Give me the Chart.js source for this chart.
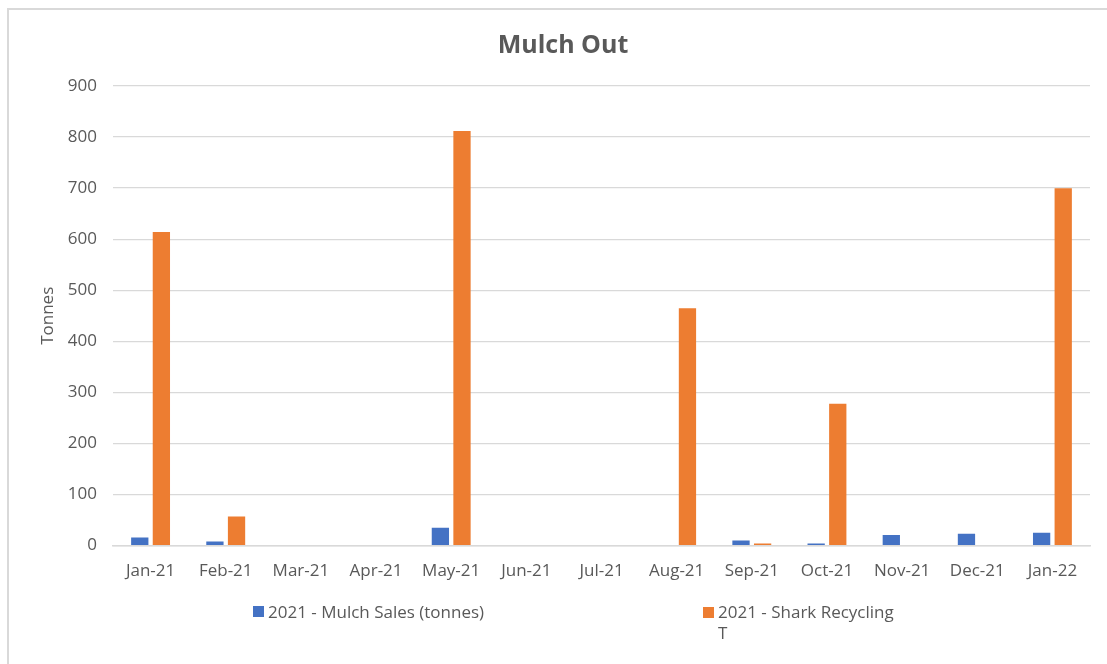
<!DOCTYPE html>
<html>
<head>
<meta charset="utf-8">
<script src="https://cdn.jsdelivr.net/npm/chart.js@4/dist/chart.umd.min.js"></script>
<style>
  html, body { margin: 0; padding: 0; background: #fff; }
  #wrap { position: relative; width: 1107px; height: 664px; overflow: hidden; }
  #frame { position: absolute; left: 7px; top: 8px; right: -10px; bottom: -10px;
           border-left: 2px solid #d9d9d9; border-top: 2px solid #d9d9d9; }
  .legend { position: absolute; font-family: "Open Sans", sans-serif; font-size: 17px;
            color: #595959; line-height: 21px; }
  .swatch { position: absolute; width: 11px; height: 11px; }
  #title { position: absolute; left: 363px; width: 400px; top: 26px; text-align: center;
           font-family: "Open Sans", sans-serif; font-weight: bold; font-size: 25px;
           line-height: 34px; color: #595959; }
</style>
</head>
<body>
<div id="wrap">
  <div id="frame"></div>
  <canvas id="mulchChart" width="1107" height="664"></canvas>
  <div id="title">Mulch Out</div>
  <div class="swatch" style="left:253px;top:606px;background:#4472C4"></div>
  <div class="legend" style="left:268px;top:601px">2021 - Mulch Sales (tonnes)</div>
  <div class="swatch" style="left:703px;top:607px;background:#ED7D31"></div>
  <div class="legend" style="left:718px;top:601px">2021 - Shark Recycling<br>T</div>
</div>
<script>
const months = ['Jan-21','Feb-21','Mar-21','Apr-21','May-21','Jun-21','Jul-21',
  'Aug-21','Sep-21','Oct-21','Nov-21','Dec-21','Jan-22'];

const mulchSales = [16, 8, 0, 0, 35, 0, 0, 0, 10, 4, 21, 23, 25];
const sharkRecycling = [614, 57, 0, 0, 812, 0, 0, 465, 4, 278, 0, 0, 700];

const yTicks = [0, 100, 200, 300, 400, 500, 600, 700, 800, 900];

const textGrey = '#595959';
const font = 'Open Sans';

const ctx = document.getElementById('mulchChart').getContext('2d');

new Chart(ctx, {
  type: 'bar',
  data: {
    labels: months,
    datasets: [
      {
        label: '2021 - Mulch Sales (tonnes)',
        data: mulchSales,
        backgroundColor: '#4472C4'
      },
      {
        label: '2021 - Shark Recycling T',
        data: sharkRecycling,
        backgroundColor: '#ED7D31'
      }
    ]
  },
  options: {
    responsive: false,
    animation: false,
    categoryPercentage: 0.575,
    barPercentage: 0.8,
    layout: { padding: { left: 8, top: 86, right: 17, bottom: 68 } },
    plugins: {
      legend: { display: false },
      tooltip: { enabled: false },
      title: { display: false }
    },
    scales: {
      x: {
        grid: { display: false, drawTicks: false },
        border: { color: '#d9d9d9', width: 1.5 },
        ticks: { color: textGrey, font: { family: font, size: 17 }, padding: 15, maxRotation: 0 }
      },
      y: {
        min: 0,
        max: 900,
        afterBuildTicks: scale => { scale.ticks = yTicks.map(v => ({ value: v })); },
        afterFit: scale => { scale.width = 105; },
        grid: { color: '#d9d9d9', lineWidth: 1.3, drawTicks: false },
        border: { display: false },
        ticks: { color: textGrey, font: { family: font, size: 17 }, padding: 16 },
        title: {
          display: true,
          text: 'Tonnes',
          color: textGrey,
          font: { family: font, size: 17 },
          padding: { top: 30, bottom: 0 }
        }
      }
    }
  }
});
</script>
</body>
</html>
